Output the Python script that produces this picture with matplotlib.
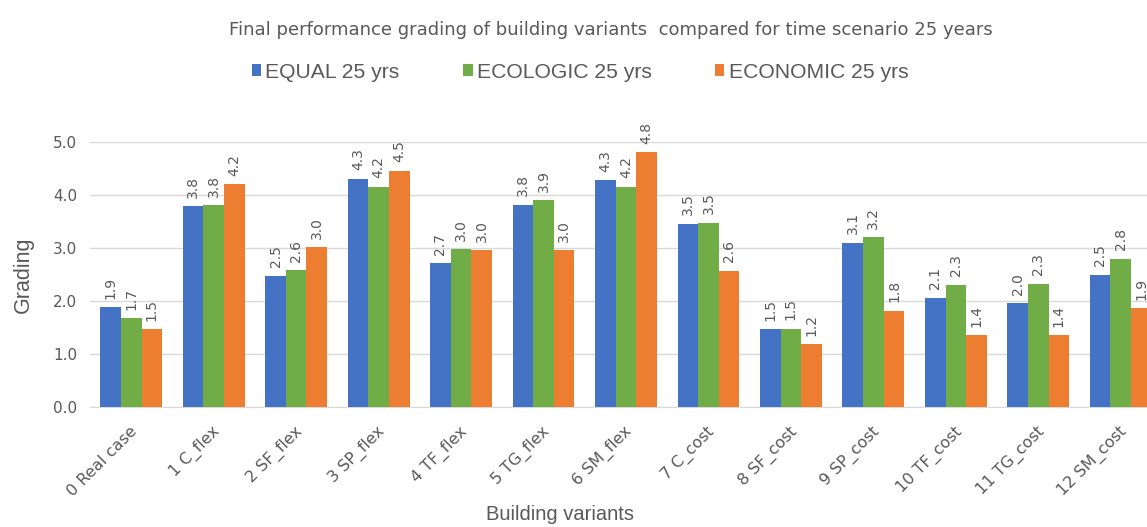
import matplotlib
matplotlib.use("Agg")
import matplotlib.pyplot as plt
import matplotlib.transforms as mtransforms
import numpy as np

plt.rcParams['font.family'] = ['DejaVu Sans']

categories = ["0 Real case", "1 C_flex", "2 SF_flex", "3 SP_flex", "4 TF_flex", "5 TG_flex",
              "6 SM_flex", "7 C_cost", "8 SF_cost", "9 SP_cost", "10 TF_cost", "11 TG_cost", "12 SM_cost"]
equal = [1.88, 3.79, 2.48, 4.31, 2.71, 3.82, 4.28, 3.46, 1.47, 3.10, 2.06, 1.96, 2.50]
ecologic = [1.67, 3.81, 2.58, 4.16, 2.98, 3.90, 4.16, 3.48, 1.48, 3.20, 2.31, 2.33, 2.80]
economic = [1.47, 4.20, 3.01, 4.46, 2.96, 2.96, 4.81, 2.57, 1.18, 1.82, 1.36, 1.36, 1.87]
series_names = ["EQUAL 25 yrs", "ECOLOGIC 25 yrs", "ECONOMIC 25 yrs"]
colors = ["#4472C4", "#70AD47", "#ED7D31"]
yticks = [0.0, 1.0, 2.0, 3.0, 4.0, 5.0]

W, H = 1147, 527
fig = plt.figure(figsize=(W / 100, H / 100), dpi=100)
ax_left, ax_right, ax_bottom, ax_top = 90, 1162, 407, 142
ax = fig.add_axes([ax_left / W, (H - ax_bottom) / H, (ax_right - ax_left) / W, (ax_bottom - ax_top) / H])

x = np.arange(len(categories))
bw = 0.25
text_col = "#595959"
for i, (vals, name, c) in enumerate(zip([equal, ecologic, economic], series_names, colors)):
    pos = x + (i - 1) * bw
    ax.bar(pos, vals, width=bw, color=c, label=name, zorder=3)
    for xp, v in zip(pos, vals):
        ax.annotate(f"{v:.1f}", (xp, v), xytext=(0, 6), textcoords="offset points",
                    rotation=90, ha="center", va="bottom", fontsize=10, color=text_col,
                    annotation_clip=False)

ax.set_xlim(-0.5, len(categories) - 0.5)
ax.set_ylim(0, 5)
ax.set_yticks(yticks)
ax.set_yticklabels([f"{t:.1f}" for t in yticks], fontsize=11, color=text_col)
ax.yaxis.grid(True, color="#D9D9D9", linewidth=1, zorder=0)
ax.set_axisbelow(True)
for s in ["top", "right", "left"]:
    ax.spines[s].set_visible(False)
ax.spines["bottom"].set_color("#D9D9D9")
ax.tick_params(axis="both", length=0)
ax.tick_params(axis="y", pad=9)
ax.set_xticks(x)
ax.set_xticklabels(categories, rotation=45, ha="right", rotation_mode="anchor",
                   fontsize=11.5, color=text_col)
ax.tick_params(axis="x", pad=12)
offset = mtransforms.ScaledTranslation(-2 / 100, 0, fig.dpi_scale_trans)
for lab in ax.get_xticklabels():
    lab.set_transform(lab.get_transform() + offset)

fig.text(611 / W, 1 - 30 / H, "Final performance grading of building variants  compared for time scenario 25 years",
         ha="center", va="center", fontsize=13, color=text_col)
fig.text(560 / W, 1 - 515 / H, "Building variants", ha="center", va="center", fontsize=14.5,
         color=text_col, family="Liberation Sans")
fig.text(23 / W, 1 - 275 / H, "Grading", ha="center", va="center", rotation=90, fontsize=15.5,
         color=text_col, family="Liberation Sans")

leg = fig.legend(loc="center", bbox_to_anchor=(580 / W, 1 - 72 / H), ncol=3, frameon=False,
                 prop={"family": "Liberation Sans", "size": 15.2},
                 handlelength=0.45, handleheight=0.45, handletextpad=0.2, columnspacing=3.0)
for t in leg.get_texts():
    t.set_color(text_col)

fig.savefig("out.png", dpi=100)
